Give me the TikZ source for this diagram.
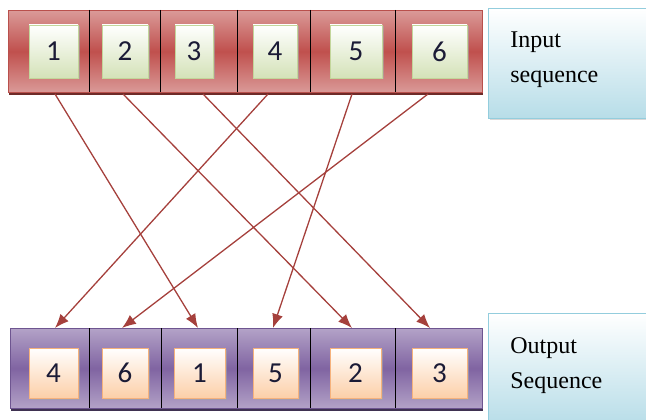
\documentclass[tikz,border=0pt]{standalone}
\usepackage{fontspec}
\usepackage{tikz}
\usetikzlibrary{arrows.meta,shadows}
\setmainfont{Liberation Serif}
\newfontfamily\digitfont{Carlito}

\definecolor{barred}{HTML}{C0504D}
\definecolor{barpink}{HTML}{DA9A98}
\definecolor{barredline}{HTML}{B9504C}
\definecolor{barredshadow}{HTML}{6E2A28}
\definecolor{barpurple}{HTML}{8064A2}
\definecolor{barlilac}{HTML}{B3A2C7}
\definecolor{barpurpleline}{HTML}{6E5590}
\definecolor{barpurpleshadow}{HTML}{3F3151}
\definecolor{boxgreen}{HTML}{D4E2B8}
\definecolor{boxgreenline}{HTML}{C3D69B}
\definecolor{boxorange}{HTML}{FCCFA8}
\definecolor{boxorangeline}{HTML}{F6B27C}
\definecolor{lblblue}{HTML}{B7DDE8}
\definecolor{lblblueline}{HTML}{93CDDD}
\definecolor{arrowred}{HTML}{A5403C}
\definecolor{digitink}{HTML}{1B1B36}

\begin{document}
\begin{tikzpicture}[x=1pt, y=-1pt,
        bar/.style={draw, line width=0.8pt, anchor=north west, inner sep=0pt},
        redbar/.style={bar, draw=barredline, top color=barpink, bottom color=barpink, middle color=barred,
            drop shadow={shadow xshift=1pt, shadow yshift=-3pt, fill=barredshadow, opacity=1}},
        purplebar/.style={bar, draw=barpurpleline, top color=barlilac, bottom color=barlilac, middle color=barpurple,
            drop shadow={shadow xshift=1pt, shadow yshift=-3pt, fill=barpurpleshadow, opacity=1}},
        numbox/.style={draw, line width=0.6pt, inner sep=0pt, text=digitink,
            font=\digitfont\fontsize{29}{29}\selectfont,
            drop shadow={shadow xshift=1.5pt, shadow yshift=-1.5pt, fill=black!35, opacity=0.6}},
        greenbox/.style={numbox, draw=boxgreenline, top color=white, bottom color=boxgreen, minimum height=53pt},
        orangebox/.style={numbox, draw=boxorangeline, top color=white, bottom color=boxorange, minimum height=50pt},
        lblbox/.style={draw=lblblueline, line width=0.8pt, anchor=north west, top color=white, bottom color=lblblue,
            align=left, text width=118pt, font=\fontsize{24}{35}\selectfont,
            execute at end node={\rule[-12pt]{0pt}{12pt}},
            drop shadow={shadow xshift=1.5pt, shadow yshift=-2pt, fill=black!30, opacity=0.5}},
        arr/.style={-{Latex[length=14pt, width=11pt]}, draw=arrowred, line width=1.3pt}]

        \clip (0, 0) rectangle (646, 420);

        % input bar
        \node (inbar) at (8, 10) [redbar, minimum width=474pt, minimum height=82pt] {};
        \foreach \x in {89, 160, 237, 310, 395}
            {\draw [line width=1pt] (\x, 10) -- (\x, 92);}

        \node (in1) at (53.5, 51.5) [greenbox, minimum width=49pt] {1};
        \node (in2) at (125, 51.5) [greenbox, minimum width=46pt] {2};
        \node (in3) at (194, 51.5) [greenbox, minimum width=38pt] {3};
        \node (in4) at (275, 51.5) [greenbox, minimum width=44pt] {4};
        \node (in5) at (356, 51.5) [greenbox, minimum width=52pt] {5};
        \node (in6) at (439.5, 51.5) [greenbox, minimum width=55pt] {6};

        % output bar
        \node (outbar) at (10, 328) [purplebar, minimum width=472pt, minimum height=80pt] {};
        \foreach \x in {89, 161, 237, 310, 395}
            {\draw [line width=1pt] (\x, 328) -- (\x, 408);}

        \node (out1) at (53.5, 373) [orangebox, minimum width=49pt] {4};
        \node (out2) at (125, 373) [orangebox, minimum width=46pt] {6};
        \node (out3) at (199.5, 373) [orangebox, minimum width=51pt] {1};
        \node (out4) at (275.5, 373) [orangebox, minimum width=45pt] {5};
        \node (out5) at (355.5, 373) [orangebox, minimum width=51pt] {2};
        \node (out6) at (439.5, 373) [orangebox, minimum width=55pt] {3};

        % labels
        \node (inlbl) at (488, 8) [lblbox, minimum width=162pt, minimum height=110pt] {Input\\sequence};
        \node (outlbl) at (488, 313) [lblbox, minimum width=162pt, minimum height=112pt] {Output\\Sequence};

        % arrow ends
        \foreach \n/\x in {1/55, 2/123, 3/203, 4/268, 5/352, 6/428}
            {\coordinate (t\n) at (\x, 94);}
        \foreach \n/\x in {1/55, 2/122, 3/198, 4/273, 5/352, 6/430}
            {\coordinate (b\n) at (\x, 328);}

        \foreach \a/\b in {1/3, 2/5, 3/6, 4/1, 5/4, 6/2}
            {\draw [arr] (t\a) -- (b\b);}
    \end{tikzpicture}
\end{document}
